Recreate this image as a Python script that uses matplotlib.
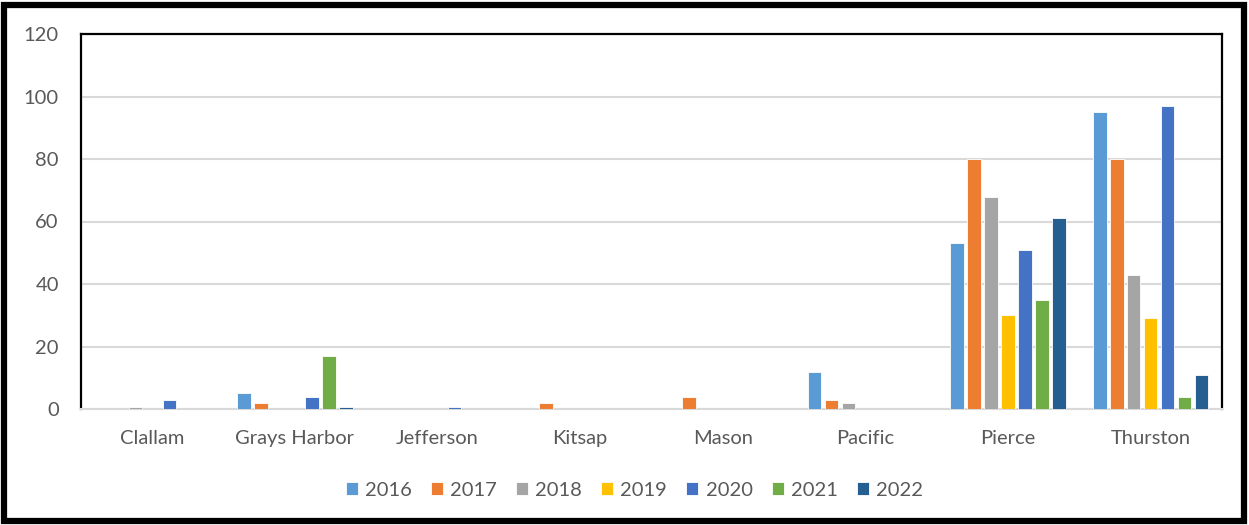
import numpy as np
import matplotlib
matplotlib.use("Agg")
import matplotlib.pyplot as plt
from matplotlib.patches import Rectangle

counties = ["Clallam", "Grays Harbor", "Jefferson", "Kitsap", "Mason", "Pacific", "Pierce", "Thurston"]
years = ["2016", "2017", "2018", "2019", "2020", "2021", "2022"]
colors = ["#5B9BD5", "#ED7D31", "#A5A5A5", "#FFC000", "#4472C4", "#70AD47", "#255E91"]

v2016 = [0, 5, 0, 0, 0, 12, 53, 95]
v2017 = [0, 2, 0, 2, 4, 3, 80, 80]
v2018 = [0.6, 0, 0, 0, 0, 2, 68, 43]
v2019 = [0, 0, 0, 0, 0, 0, 30, 29]
v2020 = [3, 4, 0.6, 0, 0, 0, 51, 97]
v2021 = [0, 17, 0, 0, 0, 0, 35, 4]
v2022 = [0, 0.6, 0, 0, 0, 0, 61, 11]
series = [v2016, v2017, v2018, v2019, v2020, v2021, v2022]

plt.rcParams['font.family'] = ['Lato', 'DejaVu Sans']
txt = "#595959"

fig = plt.figure(figsize=(12.49, 5.25), dpi=100)
ax = fig.add_axes([81/1249, 1-409/525, (1222-81)/1249, 375/525])

x = np.arange(len(counties))
pitch = 0.119
width = 0.095
for i, (yr, vals) in enumerate(zip(years, series)):
    ax.bar(x + (i - 3) * pitch, vals, width, color=colors[i], label=yr,
           edgecolor="white", linewidth=0.6, zorder=3)

ax.set_xlim(-0.5, len(counties) - 0.5)
ax.set_ylim(0, 120)
ax.set_yticks(range(0, 121, 20))
ax.yaxis.grid(True, color="#D9D9D9", linewidth=1.5, zorder=0)
ax.set_xticks(x)
ax.set_xticklabels(counties)
ax.tick_params(axis="x", length=0, pad=15, labelsize=14.5, labelcolor=txt)
ax.tick_params(axis="y", length=0, pad=16, labelsize=14.5, labelcolor=txt)
for s in ["left", "top", "right"]:
    ax.spines[s].set_color("black")
    ax.spines[s].set_linewidth(1.6)
ax.spines["bottom"].set_color("#D9D9D9")
ax.spines["bottom"].set_linewidth(1.5)

fig.legend(loc="center", bbox_to_anchor=(0.508, 1-490/525), ncol=7, frameon=False,
           fontsize=14.5, labelcolor=txt, handlelength=0.6, handleheight=0.6,
           handletextpad=0.35, columnspacing=0.95)

fig.patches.append(Rectangle((4/1249, 4/525), 1 - 9/1249, 1 - 9/525, transform=fig.transFigure,
                             fill=False, edgecolor="black", linewidth=4.5))

fig.savefig("out.png", dpi=100)
